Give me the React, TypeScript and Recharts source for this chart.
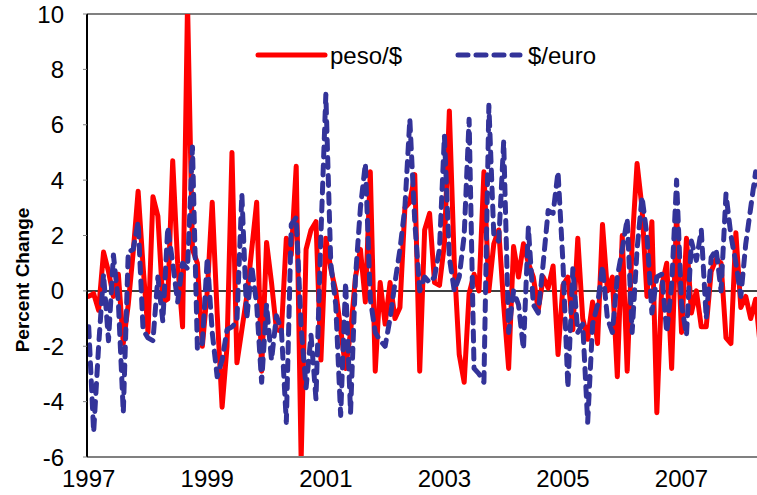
import React from 'react';
import { LineChart, Line, XAxis, YAxis, ReferenceLine, Legend } from 'recharts';

const START_YEAR = 1997;
const yearTicks = [1997, 1999, 2001, 2003, 2005, 2007];
const valueTicks = [-6, -4, -2, 0, 2, 4, 6, 8, 10];

// Monthly percent change, Jan 1997 onward
const pesoPerDollar = [
  -0.2, -0.1, -0.7, 1.4, 0.7, -0.2, 0.6, -1.9, -0.5, 1.4, 3.6, 0.9,
  -1.5, 3.4, 2.7, -0.4, -0.3, 4.7, 1.0, -1.3, 10.4, 1.5, 1.0, -2.0,
  0.0, 3.2, -0.8, -4.2, -2.0, 5.0, -2.6, -1.4, -0.2, 1.5, 3.2, -2.9,
  1.75, 0.3, -1.4, -1.45, 1.9, 1.3, 4.5, -6.1, 1.5, 2.2, 2.5, -2.5,
  1.9, 0.8, 0.0, -1.4, -2.8, -1.5, 0.5, 1.5, -0.4, 4.3, -2.9, 0.3,
  -1.2, 0.3, -1.0, -0.6, 3.0, 3.2, 4.2, -2.9, 2.2, 2.8, 0.3, 0.2,
  1.7, 6.5, 1.0, -2.3, -3.3, -0.1, 0.6, 0.0, 4.3, 0.0, 1.7, 2.2,
  -0.5, -2.8, 1.6, 0.5, 1.7, 1.0, 0.5, -0.7, 0.5, 0.1, 0.9, -2.3,
  0.2, 0.5, -1.4, 1.9, -1.0, -1.75, -0.4, -1.9, 2.4, 0.0, 0.5, -3.1,
  2.0, -2.9, 1.7, 4.6, 3.0, -0.2, 2.5, -4.4, 0.2, 1.0, -2.8, 2.8,
  -1.5, 1.9, -0.8, 0.0, -1.3, -1.3, 0.7, 1.15, 1.0, -1.7, -1.9, 2.1,
  -0.6, -0.2, -1.0, -0.3, -2.1,
];

const dollarPerEuro = [
  -1.3, -5.1, -2.0, 0.6, -1.8, 1.3, -0.4, -4.4, 1.4, 1.5, 2.5, -1.4,
  -1.7, -1.8, 0.5, -1.1, 2.3, 1.0, -0.4, 1.0, 0.8, 5.2, -2.1, -1.9,
  1.2, -1.5, -3.1, -2.5, -1.4, -1.3, -1.1, 3.5, -1.0, 0.9, -0.5, -3.3,
  -0.5, -2.5, -0.9, -1.4, -4.75, 2.4, 2.65, -1.3, -3.5, -1.6, -3.9, 2.0,
  7.1, 1.0, -0.5, -4.5, 0.3, -4.4, 0.5, 3.0, 4.6, -0.3, -1.5, -1.8,
  -2.0, -1.0, 0.3, 1.5, 3.0, 6.2, 2.5, 0.0, 0.5, 0.3, 0.5, 1.5,
  5.6, 1.2, 0.0, 0.5, 2.0, 6.2, -2.8, -3.0, -3.3, 6.7, 2.0, 1.8,
  5.4, -1.5, 0.0, -0.5, -2.1, 2.3, -0.5, -0.8, 1.0, 2.9, 2.8, 4.3,
  1.0, -3.5, 0.8, -1.5, -1.2, -4.75, -1.2, -0.5, 0.9, -1.0, -1.5, 0.5,
  1.5, 2.6, -1.5, 1.5, 3.4, 2.0, -0.8, 0.5, 0.6, -1.5, 0.2, 4.0,
  -0.5, -1.6, 1.8, 1.1, 2.2, -1.0, 1.2, 1.5, 0.0, 3.5, 2.0, 1.0,
  -0.2, 1.7, 3.0, 4.3, 3.5,
];

const data = pesoPerDollar.map((v, i) => ({
  t: START_YEAR + i / 12,
  peso: v,
  euro: dollarPerEuro[i],
}));

const FONT = 'Liberation Sans, Arial, sans-serif';
const RED = '#FF0000';
const BLUE = '#333399';

const LegendContent = () => (
  <svg width={420} height={40} style={{ display: 'block', fontFamily: FONT }}>
    <line x1={10} x2={77} y1={17} y2={17} stroke={RED} strokeWidth={5} strokeLinecap="round" />
    <text x={82} y={25.5} fontSize={24} fill="#000">peso/$</text>
    <line x1={210} x2={272} y1={17} y2={17} stroke={BLUE} strokeWidth={5} strokeLinecap="round" strokeDasharray="10 8" />
    <text x={280} y={25.5} fontSize={24} fill="#000">$/euro</text>
  </svg>
);

const YLabel = () => (
  <text
    x={22}
    y={280}
    transform="rotate(-90 22 280)"
    textAnchor="middle"
    dominantBaseline="central"
    fontFamily={FONT}
    fontSize={19}
    fontWeight="bold"
    fill="#000"
  >
    Percent Change
  </text>
);

export default function App() {
  return (
    <div style={{ width: 757, height: 495, overflow: 'hidden', fontFamily: FONT }}>
      <style>{'html,body{margin:0;padding:0;overflow:hidden;}'}</style>
      <LineChart
        width={757}
        height={495}
        data={data}
        margin={{ top: 14, right: 0, bottom: 0, left: 0 }}
      >
        <XAxis
          type="number"
          dataKey="t"
          domain={[1996.971, 2008.273]}
          allowDataOverflow
          ticks={yearTicks}
          tickFormatter={(v: number) => String(Math.round(v))}
          height={38}
          axisLine={{ stroke: '#808080', strokeWidth: 2 }}
          tickLine={false}
          tickSize={0}
          tickMargin={13}
          tick={{ fontSize: 24, fill: '#000', fontFamily: FONT }}
        />
        <YAxis
          type="number"
          domain={[-6, 10]}
          allowDataOverflow
          ticks={valueTicks}
          width={87}
          axisLine={{ stroke: '#000', strokeWidth: 2 }}
          tickLine={{ stroke: '#808080' }}
          tickSize={4}
          tickMargin={19}
          tick={{ fontSize: 24, fill: '#000', fontFamily: FONT }}
          label={<YLabel />}
        />
        <ReferenceLine y={10} stroke="#808080" strokeWidth={2} />
        <ReferenceLine y={0} stroke="#000" strokeWidth={1.5} />
        <Line
          type="linear"
          dataKey="peso"
          name="peso/$"
          stroke={RED}
          strokeWidth={5}
          dot={false}
          activeDot={false}
          strokeLinejoin="round"
          strokeLinecap="round"
          isAnimationActive={false}
        />
        <Line
          type="linear"
          dataKey="euro"
          name="$/euro"
          stroke={BLUE}
          strokeWidth={5}
          strokeDasharray="10 8"
          dot={false}
          activeDot={false}
          strokeLinejoin="round"
          strokeLinecap="round"
          isAnimationActive={false}
        />
        <Legend
          layout="horizontal"
          verticalAlign="middle"
          align="center"
          content={<LegendContent />}
          wrapperStyle={{ position: 'absolute', left: 248, top: 38, width: 420, height: 40 }}
        />
      </LineChart>
    </div>
  );
}
